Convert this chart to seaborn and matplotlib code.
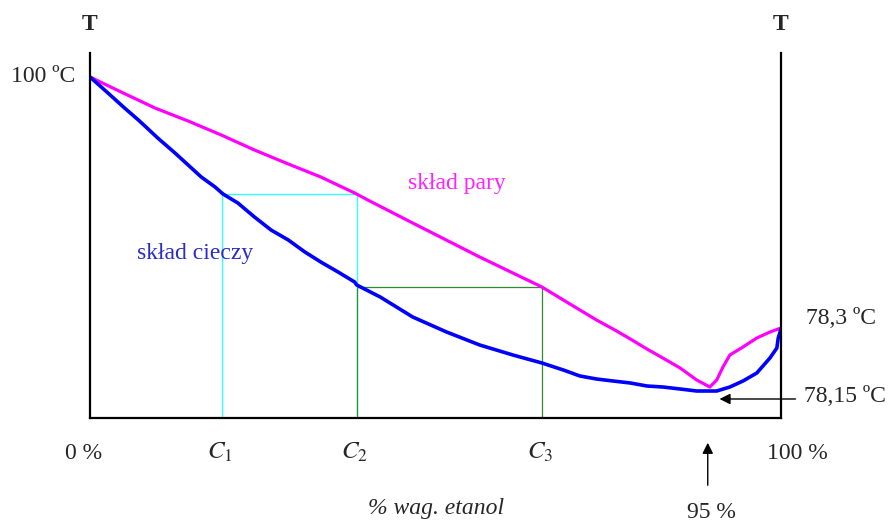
import numpy as np
import pandas as pd
import matplotlib
matplotlib.use("Agg")
import matplotlib.pyplot as plt
import seaborn as sns

# liquid composition curve (x = % wag. etanol, y = T in arbitrary chart units)
liquid_x = [0, 2.6, 5.0, 7.0, 8.1, 9.8, 12.3, 14.2, 16.1, 18.1, 19.25, 21.4, 23.8, 26.2,
            28.7, 31.1, 33.4, 35.9, 38.3, 38.6, 42.0, 46.7, 51.6, 56.4, 61.2, 65.4, 68.5,
            70.9, 73.3, 75.7, 78.2, 80.6, 82.9, 85.4, 87.8, 90.7, 92.6, 94.5, 96.5, 98.4,
            99.4, 99.6, 100]
liquid_t = [341, 325, 310, 298, 291, 280, 265, 253, 241, 231, 224, 215, 201, 188,
            178, 166, 156, 146, 136, 133, 121, 101, 86, 73, 63, 55, 48,
            42, 39, 37, 35, 32, 31, 29, 27, 27, 31, 37, 45, 60,
            70, 80, 89]

# vapour composition curve
vapour_x = [0, 4.5, 9.4, 14.2, 19.0, 23.8, 28.7, 33.4, 38.3, 40.2, 46.7, 56.4, 65.4,
            68.5, 70.9, 73.3, 75.7, 78.2, 80.6, 82.9, 85.4, 87.8, 89.7, 90.7, 91.6,
            92.6, 94.5, 96.5, 98.4, 100]
vapour_t = [341, 326, 310, 297, 283, 268, 254, 241, 225, 218, 195, 161, 131,
            118, 108, 98, 89, 79, 69, 60, 50, 38, 31, 38, 51,
            63, 71, 80, 86, 90]

# tie lines
c_pos = [19.1, 38.6, 65.4]
c_labels = ["$C_1$", "$C_2$", "$C_3$"]
tie_t = [224, 131]
azeo_x = 89.4
azeo_t = 19

sns.set_style("white")
plt.rcParams['font.family'] = ['Liberation Serif', 'DejaVu Serif']
plt.rcParams['mathtext.fontset'] = 'stix'

fig = plt.figure(figsize=(8.89, 5.23), dpi=100)
ax = fig.add_axes([90/889, 105/523, 691/889, 365/523])

liq = pd.DataFrame({"x": liquid_x, "T": liquid_t})
vap = pd.DataFrame({"x": vapour_x, "T": vapour_t})
sns.lineplot(data=vap, x="x", y="T", sort=False, estimator=None, color="#ff00ff", lw=2.3, ax=ax)
sns.lineplot(data=liq, x="x", y="T", sort=False, estimator=None, color="#0000ff", lw=2.6, ax=ax)

# tie lines
ax.vlines([c_pos[0], c_pos[1]], 0, tie_t[0], color="#33ffff", lw=1.0, zorder=1)
ax.hlines(tie_t[0], c_pos[0], c_pos[1], color="#33ffff", lw=1.0, zorder=1)
ax.vlines([c_pos[1], c_pos[2]], 0, tie_t[1], color="#2e8b2e", lw=0.9, zorder=1)
ax.hlines(tie_t[1], c_pos[1], c_pos[2], color="#2e8b2e", lw=0.9, zorder=1)

ax.set_xlim(0, 100)
ax.set_ylim(0, 365)
ax.set_xticks([])
ax.set_yticks([])
ax.set_xlabel("")
ax.set_ylabel("")
ax.spines['top'].set_visible(False)
for s in ['left', 'right', 'bottom']:
    ax.spines[s].set_color("black")
    ax.spines[s].set_linewidth(1.6)

fs = 17
# axis titles
ax.text(0, 393, "T", ha="center", va="center", fontsize=fs, fontweight="bold", clip_on=False)
ax.text(100, 393, "T", ha="center", va="center", fontsize=fs, fontweight="bold", clip_on=False)
ax.text(-2.2, 341, "100 ºC", ha="right", va="center", fontsize=fs, clip_on=False)
ax.text(103.6, 100, "78,3 ºC", ha="left", va="center", fontsize=fs, clip_on=False)
ax.text(103.3, 21, "78,15 ºC", ha="left", va="center", fontsize=fs, clip_on=False)

# curve labels
ax.text(6.8, 165, "skład cieczy", ha="left", va="center", fontsize=fs, color="#2b2bc8")
ax.text(46.0, 235, "skład pary", ha="left", va="center", fontsize=fs, color="#ff22ff")

# bottom labels
ax.text(-0.9, -41, "0 %", ha="center", va="baseline", fontsize=fs, clip_on=False)
ax.text(102.4, -41, "100 %", ha="center", va="baseline", fontsize=fs, clip_on=False)
for cx, cl in zip(c_pos, c_labels):
    ax.text(cx - 0.3, -41, cl, ha="center", va="baseline", fontsize=fs + 1, clip_on=False)
ax.text(50.1, -96, "% wag. etanol", ha="center", va="baseline", fontsize=fs, style="italic", clip_on=False)
ax.text(90.0, -100, "95 %", ha="center", va="baseline", fontsize=fs, clip_on=False)

# arrows
ax.annotate("", xy=(azeo_x, -22), xytext=(azeo_x, -70),
            arrowprops=dict(arrowstyle="-|>", color="black", lw=1.0, mutation_scale=16),
            annotation_clip=False)
ax.annotate("", xy=(90.7, azeo_t), xytext=(102.5, azeo_t),
            arrowprops=dict(arrowstyle="-|>", color="black", lw=1.0, mutation_scale=16),
            annotation_clip=False)

fig.savefig("out.png", dpi=100)
